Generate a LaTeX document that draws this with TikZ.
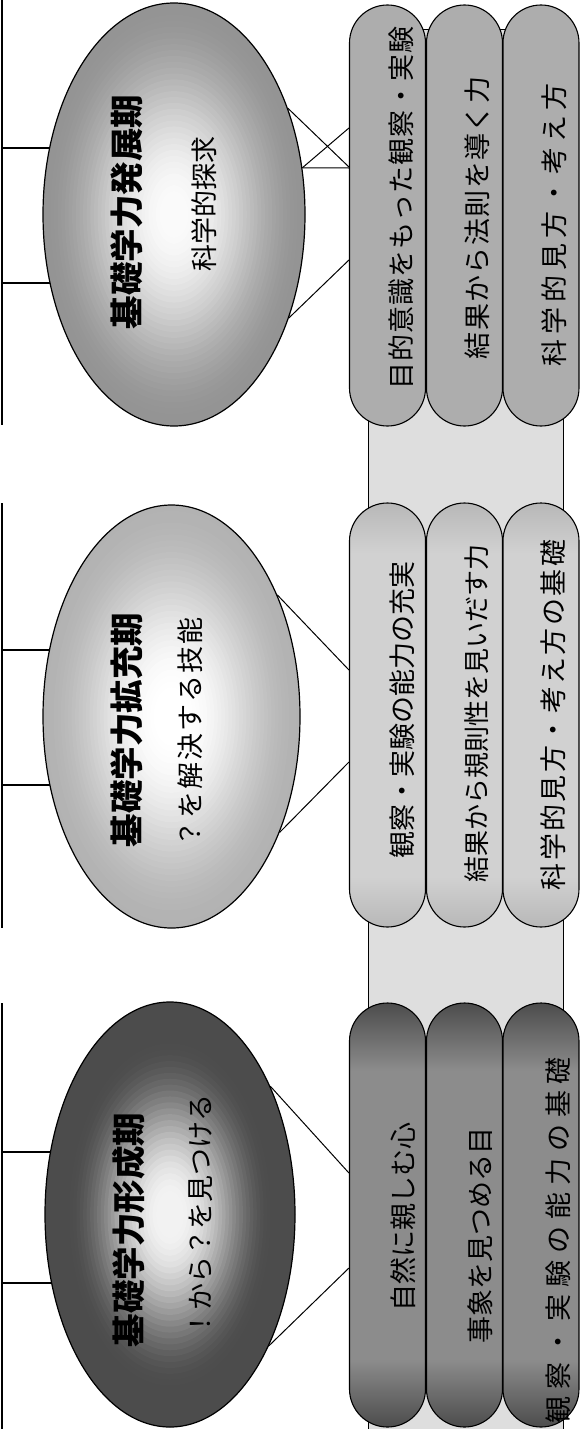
\documentclass[tikz,border=0pt]{standalone}
\usepackage{fontspec}
\setmainfont{Noto Sans CJK JP}
\usetikzlibrary{shapes.geometric,calc,backgrounds}

\pgfdeclareverticalshading{pillMid}{100bp}{color(0bp)=(black!28); color(25bp)=(black!28); color(31bp)=(black!18); color(69bp)=(black!18); color(75bp)=(black!28); color(100bp)=(black!28)}
\pgfdeclareverticalshading{pillBot}{100bp}{color(0bp)=(black!70); color(25bp)=(black!70); color(33bp)=(black!45); color(67bp)=(black!45); color(75bp)=(black!70); color(100bp)=(black!70)}

\makeatletter
\newcommand\spreadtxt[2]{\begingroup\def\sp@g{\hskip#1\relax}\@tfor\sp@c:=#2\do{\sp@c\sp@g}\unskip\endgroup}
\makeatother

% concentric-ellipse gradient: centre, rx, ry, edge darkness, centre darkness, inner limit, outer limit
\newcommand\gradell[7]{%
  \foreach \gi in {1,...,36}{%
    \pgfmathsetmacro\gf{1-(\gi-1)/36}%
    \pgfmathsetmacro\gs{max(0,min(1,(\gf-#6)/(#7-#6)))}%
    \pgfmathsetmacro\gc{#5+(#4-#5)*\gs*\gs*(3-2*\gs)}%
    \fill[black!\gc] #1 ellipse [x radius=\gf*#2pt, y radius=\gf*#3pt];
  }}

\begin{document}
\begin{tikzpicture}[x=1pt,y=-1pt,line width=1.1pt,
  ell/.style={ellipse,draw,inner sep=0pt,line width=1.2pt},
  pillbox/.style={rectangle,draw,rounded corners=38pt,minimum width=76pt,inner sep=0pt,line width=1.1pt},
  ttl/.style={rotate=90,font=\bfseries\fontsize{33.5}{36}\selectfont,inner sep=0pt},
  subt/.style={rotate=90,font=\fontsize{27}{30}\selectfont,inner sep=0pt},
  ptxt/.style={rotate=90,font=\fontsize{27}{30}\selectfont,inner sep=0pt},
  conn/.style={draw,line width=1pt}]
\useasboundingbox (0,0) rectangle (579,1429);

% ellipse fills (radial gradients)
\gradell{(174,214.5)}{131}{211.5}{42}{2}{0.08}{1.0}
\gradell{(171.5,716.5)}{128.5}{211.5}{30}{0}{0.12}{1.0}
\gradell{(170,1214.5)}{125}{212.5}{70}{5}{0.1}{0.82}

% ellipses
\node[ell,minimum width=262pt,minimum height=423pt] (e1) at (174,214.5) {};
\node[ell,minimum width=257pt,minimum height=423pt] (e2) at (171.5,716.5) {};
\node[ell,minimum width=250pt,minimum height=425pt] (e3) at (170,1214.5) {};

% pills
\node[pillbox,fill=black!32,minimum height=421pt] (p11) at (387.5,215.5) {};
\node[pillbox,fill=black!32,minimum height=421pt] (p12) at (464.5,215.5) {};
\node[pillbox,fill=black!32,minimum height=421pt] (p13) at (541,215.5) {};
\node[pillbox,shade,shading=pillMid,minimum height=424pt] (p21) at (387.5,715) {};
\node[pillbox,shade,shading=pillMid,minimum height=424pt] (p22) at (464.5,715) {};
\node[pillbox,shade,shading=pillMid,minimum height=424pt] (p23) at (541,715) {};
\node[pillbox,shade,shading=pillBot,minimum height=424pt] (p31) at (387.5,1215) {};
\node[pillbox,shade,shading=pillBot,minimum height=424pt] (p32) at (464.5,1215) {};
\node[pillbox,shade,shading=pillBot,minimum height=424pt] (p33) at (541,1215) {};

% ellipse texts
\node[ttl] (t1) at (127,212) {基礎学力発展期};
\node[subt] (s1) at (204,204) {科学的探求};
\node[ttl] (t2) at (127,730) {基礎学力拡充期};
\node[subt] (s2) at (190,732) {\spreadtxt{2pt}{？を解決する技能}};
\node[ttl] (t3) at (129,1230) {基礎学力形成期};
\node[subt] (s3) at (201,1216) {！から？を見つける};

% pill texts
\node[ptxt] (q11) at (401,208) {\spreadtxt{1pt}{目的意識をもった観察・実験}};
\node[ptxt] (q12) at (477,218) {\spreadtxt{1.4pt}{結果から法則を導く力}};
\node[ptxt] (q13) at (554,225) {\spreadtxt{5pt}{科学的見方・考え方}};
\node[ptxt] (q21) at (402,710) {観察・実験の能力の充実};
\node[ptxt,font=\fontsize{26}{29}\selectfont] (q22) at (477,713) {結果から規則性を見いだす力};
\node[ptxt] (q23) at (553,715) {\spreadtxt{2.4pt}{科学的見方・考え方の基礎}};
\node[ptxt] (q31) at (403,1217) {自然に親しむ心};
\node[ptxt] (q32) at (480,1235) {事象を見つめる目};
\node[ptxt] (q33) at (558,1240) {\spreadtxt{6.9pt}{観察・実験の能力の基礎}};

\begin{scope}[on background layer]
  \fill[white] (0,0) rectangle (579,1429);
  \draw[fill=black!13,line width=1pt] (368,30) rectangle (563,1432);
  % bracket lines
  \coordinate (b1t) at (2,0);    \coordinate (b1e) at (2,425);
  \coordinate (b1a) at (2,148);  \coordinate (b1b) at (2,283);
  \coordinate (b2t) at (2,503);  \coordinate (b2e) at (2,928);
  \coordinate (b2a) at (2,650);  \coordinate (b2b) at (2,785);
  \coordinate (b3t) at (2,1003); \coordinate (b3e) at (2,1429);
  \coordinate (b3a) at (2,1152); \coordinate (b3b) at (2,1283);
  \draw[line width=1.3pt] (b1t) -- (b1e) (b1a) -- ([xshift=8pt]b1a -| e1.west) (b1b) -- ([xshift=8pt]b1b -| e1.west);
  \draw[line width=1.3pt] (b2t) -- (b2e) (b2a) -- ([xshift=8pt]b2a -| e2.west) (b2b) -- ([xshift=8pt]b2b -| e2.west);
  \draw[line width=1.3pt] (b3t) -- (b3e) (b3a) -- ([xshift=8pt]b3a -| e3.west) (b3b) -- ([xshift=8pt]b3b -| e3.west);
  % connectors
  \path[conn] (e1.43) -- ([yshift=48.5pt]p11.west);
  \path[conn] (e1.-42) -- ([yshift=-44.5pt]p11.west);
  \path[conn] (e1.20) -- ([yshift=87.5pt]p11.west);
  \path[conn] (e1.20) -- ([yshift=47.5pt]p11.west);
  \path[conn] (e2.49) -- ([yshift=45pt]p21.west);
  \path[conn] (e2.-47) -- ([yshift=-47pt]p21.west);
  \path[conn] (e3.52) -- ([yshift=42pt]p31.west);
  \path[conn] (e3.-53) -- ([yshift=-53pt]p31.west);
\end{scope}
\end{tikzpicture}
\end{document}
